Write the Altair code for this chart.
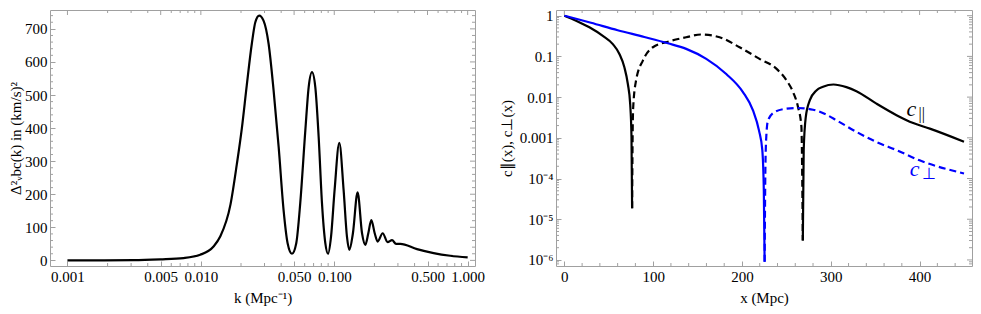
import math
import altair as alt
import pandas as pd

# ---------------- data: left panel ----------------
k_vals = [0.001, 0.00313, 0.00496, 0.00742, 0.00989, 0.01245, 0.01397, 0.0167, 0.0186,
          0.0203, 0.0221, 0.0241, 0.0256, 0.0274, 0.0295, 0.0322, 0.0351, 0.0383, 0.0417,
          0.0447, 0.0482, 0.0519, 0.0556, 0.0607, 0.0643, 0.0681, 0.0721, 0.0764, 0.0809,
          0.0857, 0.0898, 0.0946, 0.1006, 0.1091, 0.1175, 0.1245, 0.1297, 0.138, 0.1496,
          0.1615, 0.171, 0.18, 0.1896, 0.201, 0.2115, 0.2306, 0.2512, 0.2712, 0.2904,
          0.3126, 0.417, 0.556, 0.741, 1.0]
d2_vals = [0, 0.5, 3, 7, 17, 42, 72, 170, 290,
           400, 530, 655, 720, 740, 725, 655, 514, 343, 152,
           52, 20, 52, 173, 393, 524, 569, 524, 373, 173,
           52, 20, 72, 213, 355, 213, 72, 32, 82, 206,
           82, 47, 82, 122, 82, 57, 82, 55, 61, 50,
           50, 34, 22, 14, 9]

# ---------------- data: right panel ----------------
cpar_a_x = [0, 13.2, 28.2, 43.3, 54.6, 62, 67.6, 71.5, 74.1, 75.6, 76.3]
cpar_a_y = [1, 0.755, 0.52, 0.32, 0.20, 0.115, 0.054, 0.021, 0.0069, 0.00105, 1.85e-5]
cpar_b_x = [76.3, 76.8, 77.5, 80.8, 88.4, 99.7, 118.4, 137.2, 154.1, 174.8, 197.3, 219.8,
            238.7, 250, 257.5, 263.1, 266.9, 268.5]
cpar_b_y = [1.85e-5, 0.0008, 0.0055, 0.026, 0.079, 0.168, 0.235, 0.295, 0.345, 0.295, 0.168,
            0.087, 0.05, 0.026, 0.0133, 0.0057, 0.0019, 3e-6]
cpar_c_x = [268.5, 269.5, 271.8, 276.3, 283.8, 291.3, 303, 317.6, 328.9, 351.4, 374,
            392.8, 411.5, 450]
cpar_c_y = [3e-6, 0.0005, 0.0032, 0.0083, 0.0146, 0.018, 0.0204, 0.0176, 0.014, 0.0069,
            0.0036, 0.0023, 0.00168, 0.0008]
cperp_a_x = [0, 30, 60, 90, 116.6, 137.2, 159.8, 182.3, 201.1, 212.4, 219.2, 222.9, 224.6, 225.5]
cperp_a_y = [1, 0.67, 0.44, 0.30, 0.21, 0.153, 0.087, 0.037, 0.0133, 0.0047, 0.0015, 0.0005,
             5e-5, 9e-7]
cperp_b_x = [225.5, 226.4, 227.5, 229.3, 236.8, 250, 262, 280, 295, 306.3, 328.9, 351.4,
             374, 400, 450]
cperp_b_y = [9e-7, 2e-4, 0.0012, 0.0027, 0.0043, 0.0052, 0.0054, 0.0049, 0.0037, 0.0027,
             0.0014, 0.00079, 0.0005, 0.00028, 0.000133]

# tick values
left_x_major = [0.001, 0.005, 0.01, 0.05, 0.1, 0.5, 1.0]
left_x_minor = [0.002, 0.003, 0.004, 0.006, 0.007, 0.008, 0.009, 0.02, 0.03, 0.04,
                0.06, 0.07, 0.08, 0.09, 0.2, 0.3, 0.4, 0.6, 0.7, 0.8, 0.9]
left_y_major = [0, 100, 200, 300, 400, 500, 600, 700]
left_y_minor = [v for v in range(0, 760, 20) if v % 100 != 0]
right_x_major = [0, 100, 200, 300, 400]
right_x_minor = [v for v in range(0, 460, 20) if v % 100 != 0]
right_y_major = [1, 0.1, 0.01, 0.001, 1e-4, 1e-5, 1e-6]
right_y_labels = ["1", "0.1", "0.01", "0.001", "10⁻⁴", "10⁻⁵", "10⁻⁶"]
right_y_minor = [m * 10.0 ** e for e in range(-7, 0) for m in range(2, 10)
                 if 7.1e-7 < m * 10.0 ** e < 1.38]

# ---------------- styling ----------------
FONT = "Liberation Serif"
FRAME = "#a0a0a0"
BLUE = "#0000ff"
LW = 2.2
W1, W2, H = 425, 416, 256
MAJ, MIN = 5, 3

xs_left = alt.Scale(type="log", domain=[0.00074, 1.135], nice=False)
ys_left = alt.Scale(domain=[-17, 757], nice=False, zero=False)
xs_right = alt.Scale(domain=[-9.4, 459], nice=False, zero=False)
ys_right = alt.Scale(type="log", domain=[7.1e-7, 1.38], nice=False)


def axis(values, title, fmt=None, label_expr=None, title_pad=6):
    kw = dict(values=values, title=title, titlePadding=title_pad)
    if fmt:
        kw["format"] = fmt
    if label_expr:
        kw["labelExpr"] = label_expr
    return alt.Axis(**kw)


parts = []
for v, lab in zip(right_y_major, right_y_labels):
    parts.append(f"abs(log(datum.value)/LN10 - ({math.log10(v):.1f})) < 0.01 ? '{lab}'")
ylab_expr = " : ".join(parts) + " : ''"

ax_lx = axis(left_x_major, "k (Mpc⁻¹)", fmt=".3f", title_pad=6)
ax_ly = axis(left_y_major, "Δ²ᵥbc(k) in (km/s)²", title_pad=1)
ax_rx = axis(right_x_major, "x (Mpc)", fmt="d", title_pad=6)
ax_ry = axis(right_y_major, "c∥(x), c⊥(x)", label_expr=ylab_expr, title_pad=5)


def xrules(values, scale, ax, size, top):
    df = pd.DataFrame({"v": values})
    if top:
        yy, yy2 = alt.value(0), alt.value(size)
    else:
        yy, yy2 = alt.value(H), alt.value(H - size)
    return alt.Chart(df).mark_rule(color=FRAME, strokeWidth=1).encode(
        x=alt.X("v:Q", scale=scale, axis=ax), y=yy, y2=yy2)


def yrules(values, scale, ax, size, width, right):
    df = pd.DataFrame({"v": values})
    if right:
        xx, xx2 = alt.value(width), alt.value(width - size)
    else:
        xx, xx2 = alt.value(0), alt.value(size)
    return alt.Chart(df).mark_rule(color=FRAME, strokeWidth=1).encode(
        y=alt.Y("v:Q", scale=scale, axis=ax), x=xx, x2=xx2)


# ---------------- left panel ----------------
left_df = pd.DataFrame({"k": k_vals, "d2": d2_vals})
left_line = alt.Chart(left_df).mark_line(
    color="black", strokeWidth=LW, interpolate="monotone", clip=True).encode(
    x=alt.X("k:Q", scale=xs_left, axis=ax_lx),
    y=alt.Y("d2:Q", scale=ys_left, axis=ax_ly),
)
left = alt.layer(
    left_line,
    xrules(left_x_minor, xs_left, ax_lx, MIN, False),
    xrules(left_x_major, xs_left, ax_lx, MAJ, True),
    xrules(left_x_minor, xs_left, ax_lx, MIN, True),
    yrules(left_y_minor, ys_left, ax_ly, MIN, W1, False),
    yrules(left_y_major, ys_left, ax_ly, MAJ, W1, True),
    yrules(left_y_minor, ys_left, ax_ly, MIN, W1, True),
).properties(width=W1, height=H)


# ---------------- right panel ----------------
def seg(xv, yv, color, dashed):
    df = pd.DataFrame({"x": xv, "y": yv})
    mk = dict(color=color, strokeWidth=LW, interpolate="monotone", clip=True)
    if dashed:
        mk["strokeDash"] = [7, 4]
    return alt.Chart(df).mark_line(**mk).encode(
        x=alt.X("x:Q", scale=xs_right, axis=ax_rx),
        y=alt.Y("y:Q", scale=ys_right, axis=ax_ry),
    )


lab_df = pd.DataFrame({"x": [396.5, 400.0], "y": [0.0052, 0.000176],
                       "c": ["black", BLUE]})
lab_c = alt.Chart(lab_df).mark_text(
    font=FONT, fontSize=22, fontStyle="italic", align="center", baseline="middle",
    dx=-5, text="c").encode(
    x=alt.X("x:Q", scale=xs_right, axis=ax_rx),
    y=alt.Y("y:Q", scale=ys_right, axis=ax_ry),
    color=alt.Color("c:N", scale=None),
)
sub_df = pd.DataFrame({"x": [396.5, 400.0], "y": [0.0052, 0.000176],
                       "t": ["||", "⊥"], "c": ["black", BLUE]})
lab_sub = alt.Chart(sub_df).mark_text(
    font=FONT, fontSize=16, align="left", baseline="middle", dx=2, dy=5).encode(
    x=alt.X("x:Q", scale=xs_right, axis=ax_rx),
    y=alt.Y("y:Q", scale=ys_right, axis=ax_ry),
    text="t:N",
    color=alt.Color("c:N", scale=None),
)

right = alt.layer(
    seg(cpar_a_x, cpar_a_y, "black", False),
    seg(cpar_b_x, cpar_b_y, "black", True),
    seg(cpar_c_x, cpar_c_y, "black", False),
    seg(cperp_a_x, cperp_a_y, BLUE, False),
    seg(cperp_b_x, cperp_b_y, BLUE, True),
    lab_c, lab_sub,
    xrules(right_x_minor, xs_right, ax_rx, MIN, False),
    xrules(right_x_major, xs_right, ax_rx, MAJ, True),
    xrules(right_x_minor, xs_right, ax_rx, MIN, True),
    yrules(right_y_minor, ys_right, ax_ry, MIN, W2, False),
    yrules(right_y_major, ys_right, ax_ry, MAJ, W2, True),
    yrules(right_y_minor, ys_right, ax_ry, MIN, W2, True),
).properties(width=W2, height=H)

chart = alt.hconcat(left, right, spacing=12).configure_view(
    stroke=FRAME, strokeWidth=1
).configure_axis(
    grid=False, domain=False, tickSize=MAJ, offset=-MAJ, tickColor=FRAME,
    labelPadding=3, labelOverlap=False, labelFlush=False, labelFont=FONT,
    labelFontSize=15, labelColor="black", titleFont=FONT, titleFontSize=15,
    titleFontWeight="normal", titleColor="black",
).properties(padding=0, background="white")

chart.save("out.html", embed_options={"renderer": "svg", "actions": False})
